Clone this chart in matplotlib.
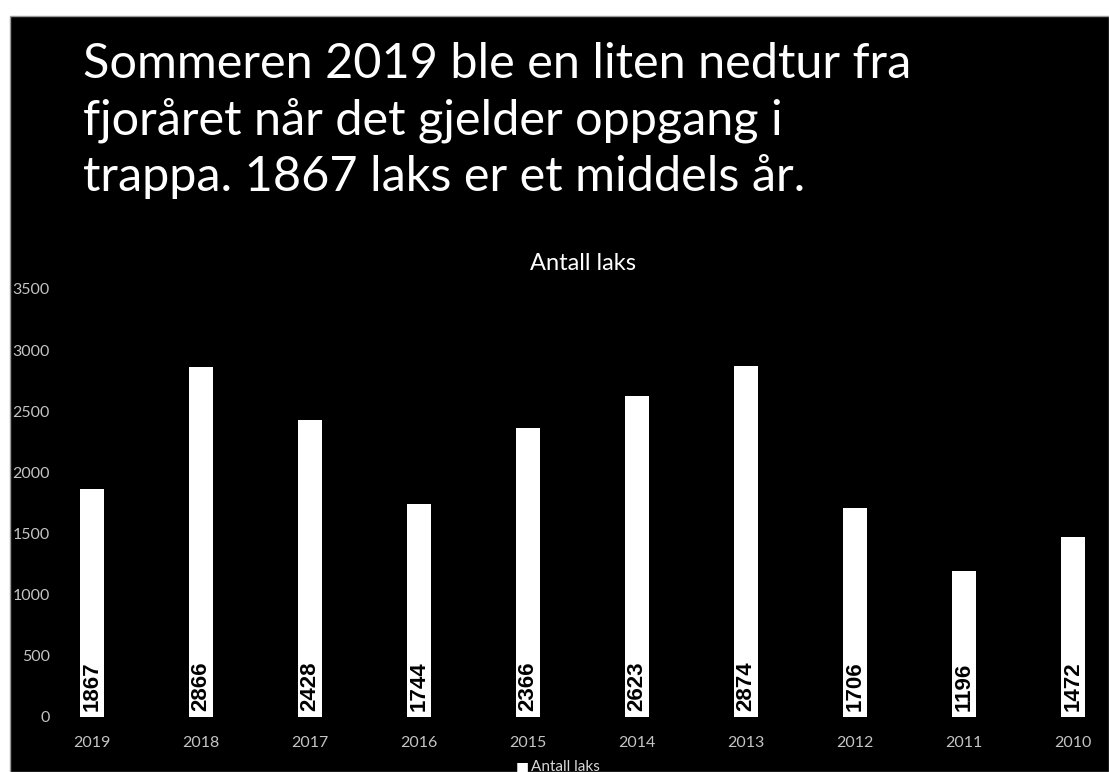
import numpy as np
import matplotlib
matplotlib.use("Agg")
import matplotlib.pyplot as plt
from matplotlib.patches import Rectangle

# ---------------------------------------------------------------
# data
# ---------------------------------------------------------------
years = ["2019", "2018", "2017", "2016", "2015", "2014", "2013", "2012", "2011", "2010"]
laks = [1867, 2866, 2428, 1744, 2366, 2623, 2874, 1706, 1196, 1472]
yticks = [0, 500, 1000, 1500, 2000, 2500, 3000, 3500]

title_lines = ["Sommeren 2019 ble en liten nedtur fra",
               "fjoråret når det gjelder oppgang i",
               "trappa. 1867 laks er et middels år."]

# ---------------------------------------------------------------
# figure
# ---------------------------------------------------------------
W, H = 1109, 772
fig = plt.figure(figsize=(W / 100, H / 100), dpi=100, facecolor="white")

# black slide panel
fig.patches.append(Rectangle((10 / W, 0), 1 - 10 / W, (H - 16) / H,
                             transform=fig.transFigure, facecolor="black",
                             edgecolor="#9a9a9a", linewidth=1.0, zorder=-5))

# slide title
fig.text(83 / W, 1 - 42 / H, "\n".join(title_lines), color="white",
         fontsize=35, family=["Lato", "DejaVu Sans"],
         va="top", ha="left", linespacing=1.3)

ax = fig.add_axes([37.5 / W, (H - 717) / H, 1090 / W, 428 / H])
ax.set_facecolor("none")
ax.set_zorder(2)

x = np.arange(len(years))
ax.bar(x, laks, width=0.22, color="white", zorder=2)

# value labels, rotated inside the bar base
for xi, v in zip(x, laks):
    ax.text(xi, 50, str(v), rotation=90, ha="center", va="bottom",
            fontsize=16, fontweight="bold", color="black",
            family=["Liberation Sans Narrow", "Liberation Sans", "DejaVu Sans"],
            zorder=3)

ax.set_xlim(-0.5, len(years) - 0.5)
ax.set_ylim(0, 3500)
ax.set_xticks(x)
ax.set_xticklabels(years)
ax.set_yticks(yticks)
ax.tick_params(axis="both", length=0, colors="#c4c4c4", labelsize=11.5)
ax.tick_params(axis="x", pad=14)
ax.tick_params(axis="y", pad=-9)
for lbl in ax.get_xticklabels() + ax.get_yticklabels():
    lbl.set_family(["Lato", "DejaVu Sans"])
for s in ax.spines.values():
    s.set_visible(False)

ax.set_title("Antall laks", color="white", fontsize=17,
             family=["Lato", "DejaVu Sans"], pad=14)

# legend
fig.text(522 / W, 1 - 767 / H, "\u25a0", color="white", fontsize=10,
         va="center", ha="center")
fig.text(531 / W, 1 - 767 / H, "Antall laks", color="#d9d9d9", fontsize=11,
         family=["Lato", "DejaVu Sans"], va="center", ha="left")

fig.savefig("out.png", dpi=100, facecolor="white")
